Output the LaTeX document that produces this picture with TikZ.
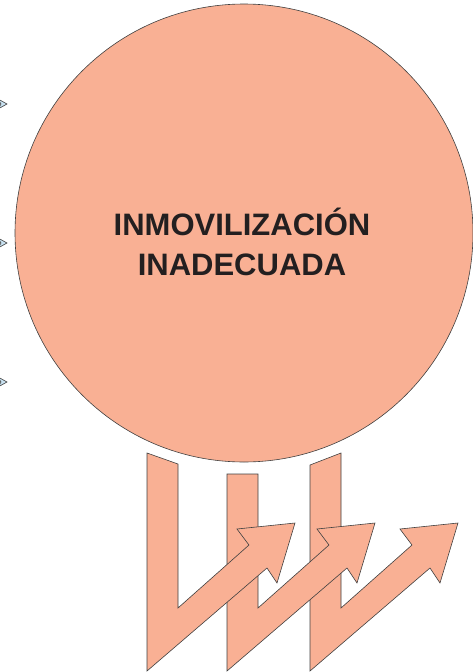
\documentclass[tikz,border=0pt]{standalone}
\usepackage{fontspec}
\usepackage{xcolor}
\usepackage{tikz}
\setmainfont{Liberation Sans}
\definecolor{salmon}{RGB}{249,176,148}
\definecolor{contorno}{RGB}{64,64,64}
\definecolor{celeste}{RGB}{200,225,240}
\definecolor{tinta}{RGB}{35,31,32}

\begin{document}
\begin{tikzpicture}
  [x=1pt,y=-1pt,
   forma/.style={fill=salmon,draw=contorno,line width=0.6pt,line join=miter},
   chevron/.style={fill=celeste,draw=contorno,line width=0.6pt},
   titulo/.style={font=\fontsize{31}{40}\selectfont\bfseries,text=tinta,align=center}]
  \useasboundingbox (0,0) rectangle (472,672);

  % flechas inferiores, de derecha a izquierda
  \foreach \xo/\ya/\yb in {310/465/453,227/474/474,147/453/464}
    \draw[forma] (\xo,\ya) -- (\xo+31,\yb) -- (\xo+31,608) -- (\xo+102,545)
      -- (\xo+90,529) -- (\xo+148,523) -- (\xo+130,583) -- (\xo+120,568)
      -- (\xo,671) -- cycle;

  % marcas a la izquierda
  \foreach \y in {104,243,382}
    \draw[chevron] (-2,\y-5) -- (7,\y) -- (-2,\y+5) -- (1,\y) -- cycle;

  \node[forma,circle,inner sep=0pt,minimum size=458pt] (circulo) at (244,233) {};
  \node[titulo] (texto) at (242,242) {INMOVILIZACIÓN\\INADECUADA};
\end{tikzpicture}
\end{document}
